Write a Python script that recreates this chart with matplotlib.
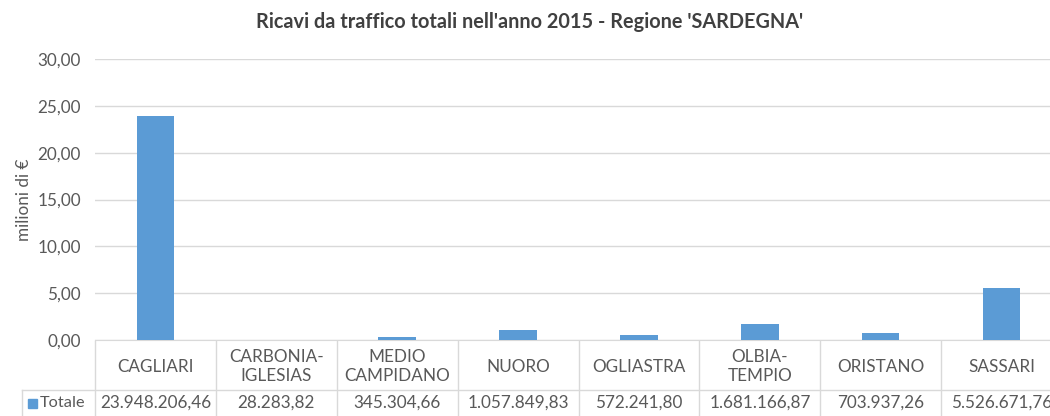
import matplotlib
matplotlib.use("Agg")
import matplotlib.pyplot as plt
from matplotlib.lines import Line2D
from matplotlib.patches import Rectangle

categories = ["CAGLIARI", "CARBONIA-\nIGLESIAS", "MEDIO\nCAMPIDANO", "NUORO",
              "OGLIASTRA", "OLBIA-\nTEMPIO", "ORISTANO", "SASSARI"]
values_eur = [23948206.46, 28283.82, 345304.66, 1057849.83,
              572241.80, 1681166.87, 703937.26, 5526671.76]
series_name = "Totale"
yticks = [0, 5, 10, 15, 20, 25, 30]
title = "Ricavi da traffico totali nell'anno 2015 - Regione 'SARDEGNA'"
ylabel = "milioni di €"

values_m = [v / 1e6 for v in values_eur]

def it_fmt(v, dec=2):
    s = f"{v:,.{dec}f}"
    return s.replace(",", "X").replace(".", ",").replace("X", ".")

plt.rcParams['font.family'] = ['Lato', 'DejaVu Sans']
BAR = "#5B9BD5"
GRID = "#D9D9D9"
TXT = "#595959"
FS = 12.3

W, H = 1050, 416
fig = plt.figure(figsize=(W / 100, H / 100), dpi=100)

x0, x1 = 95, 1062
ytop, ybot = 59, 340
ax = fig.add_axes([x0 / W, (H - ybot) / H, (x1 - x0) / W, (ybot - ytop) / H])
n = len(categories)
xs = list(range(n))
ax.bar(xs, values_m, width=0.31, color=BAR, zorder=3)
ax.set_xlim(-0.5, n - 0.5)
ax.set_ylim(0, 30)
ax.set_yticks(yticks)
ax.set_yticklabels([it_fmt(t) for t in yticks], fontsize=FS, color=TXT)
ax.tick_params(axis='y', length=0, pad=10)
ax.set_xticks([])
ax.grid(axis='y', color=GRID, linewidth=1, zorder=0)
for s in ["top", "right", "left"]:
    ax.spines[s].set_visible(False)
ax.spines["bottom"].set_color(GRID)
ax.set_ylabel(ylabel, fontsize=FS, color=TXT, labelpad=4)

fig.text(530 / W, 1 - 22 / H, title, ha="center", va="center",
         fontsize=14.3, fontweight="bold", color="#404040")

# Data table below the axis
def fx(px):
    return px / W

def fy(py):
    return 1 - py / H

cell_w = (x1 - x0) / n
row1_top, row1_bot, row2_bot = 341, 390, 418
lines = []
lines.append(Line2D([fx(22), fx(x1)], [fy(row1_bot), fy(row1_bot)]))
lines.append(Line2D([fx(22), fx(22)], [fy(row1_bot), fy(row2_bot)]))
for i in range(n + 1):
    xp = x0 + i * cell_w
    lines.append(Line2D([fx(xp), fx(xp)], [fy(row1_top), fy(row2_bot)]))
for ln in lines:
    ln.set_color(GRID)
    ln.set_linewidth(1)
    fig.add_artist(ln)

for i, (c, v) in enumerate(zip(categories, values_eur)):
    xc = x0 + (i + 0.5) * cell_w
    fig.text(fx(xc), fy((row1_top + row1_bot) / 2 + 1), c, ha="center", va="center",
             fontsize=FS, color=TXT, linespacing=1.3)
    fig.text(fx(xc), fy(403), it_fmt(v), ha="center", va="center",
             fontsize=FS, color=TXT)

fig.add_artist(Rectangle((fx(28), fy(408)), 9 / W, 9 / H, color=BAR,
                         transform=fig.transFigure))
fig.text(fx(40), fy(403), series_name, ha="left", va="center", fontsize=11.8, color=TXT)

fig.savefig("out.png", dpi=100)
